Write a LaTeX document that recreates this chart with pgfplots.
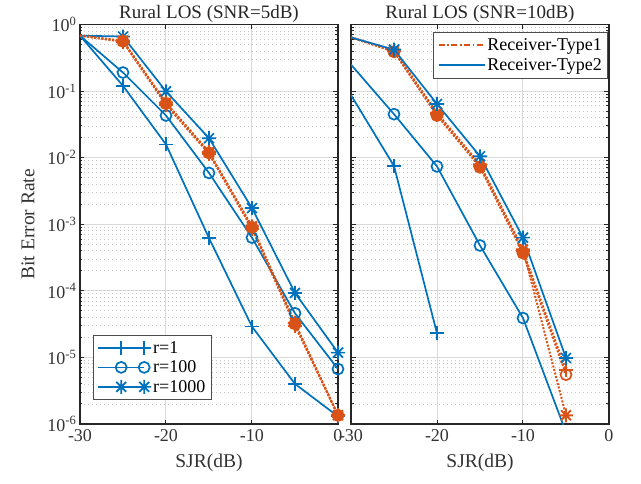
\documentclass[border=0pt]{standalone}
\usepackage{fontspec}
\setmainfont{Liberation Serif}
\usepackage{pgfplots}
\pgfplotsset{compat=1.18}
\definecolor{mblue}{RGB}{0,114,189}
\definecolor{morange}{RGB}{217,83,25}

% MATLAB-like '*' marker (8 arms)
\pgfdeclareplotmark{mstar}{%
  \pgfpathmoveto{\pgfqpoint{-\pgfplotmarksize}{0pt}}\pgfpathlineto{\pgfqpoint{\pgfplotmarksize}{0pt}}%
  \pgfpathmoveto{\pgfqpoint{0pt}{-\pgfplotmarksize}}\pgfpathlineto{\pgfqpoint{0pt}{\pgfplotmarksize}}%
  \pgfpathmoveto{\pgfqpoint{-.707\pgfplotmarksize}{-.707\pgfplotmarksize}}\pgfpathlineto{\pgfqpoint{.707\pgfplotmarksize}{.707\pgfplotmarksize}}%
  \pgfpathmoveto{\pgfqpoint{-.707\pgfplotmarksize}{.707\pgfplotmarksize}}\pgfpathlineto{\pgfqpoint{.707\pgfplotmarksize}{-.707\pgfplotmarksize}}%
  \pgfusepathqstroke}

\pgfplotsset{
  ber/.style={
    scale only axis, width=258pt, height=399.5pt,
    xmin=-30, xmax=0, ymin=1e-6, ymax=1,
    xtick={-30,-20,-10,0}, xticklabels={-30,-20,-10,0},
    ytick={1e-6,1e-5,1e-4,1e-3,1e-2,1e-1,1},
    minor ytick={2e-6,3e-6,4e-6,5e-6,6e-6,7e-6,8e-6,9e-6,
      2e-5,3e-5,4e-5,5e-5,6e-5,7e-5,8e-5,9e-5,
      2e-4,3e-4,4e-4,5e-4,6e-4,7e-4,8e-4,9e-4,
      2e-3,3e-3,4e-3,5e-3,6e-3,7e-3,8e-3,9e-3,
      2e-2,3e-2,4e-2,5e-2,6e-2,7e-2,8e-2,9e-2,
      0.2,0.3,0.4,0.5,0.6,0.7,0.8,0.9},
    xmajorgrids, ymajorgrids, yminorgrids,
    major grid style={gray!30, line width=1pt},
    minor grid style={gray!45, line width=0.8pt, dash pattern=on 0.8pt off 3.2pt},
    axis line style={black!85, line width=1.3pt},
    tick style={black!85, line width=1pt},
    major tick length=4.5pt, minor tick length=2.5pt,
    tick align=inside,
    ticklabel style={font=\fontsize{18}{21}\selectfont, text=black!80},
    xticklabel style={yshift=-2pt},
    label style={font=\fontsize{19.5}{23}\selectfont, text=black!80},
    xlabel style={yshift=-5pt},
    ylabel style={yshift=6pt},
    title style={font=\fontsize{19}{22}\selectfont, text=black!85, yshift=-8pt},
    xlabel={SJR(dB)},
    legend cell align=left,
  },
  bl/.style={mblue, line width=1.7pt, mark options={solid}},
  orr/.style={morange, line width=2pt, dash pattern=on 2pt off 1.6pt, mark options={solid}},
  mp/.style={mark=+, mark size=7pt},
  mo/.style={mark=o, mark size=5.5pt},
  mof/.style={mark=*, mark size=5.5pt, mark options={solid, fill=morange, draw=morange}},
  ms/.style={mark=mstar, mark size=7pt},
  legend image code/.code={%
    \draw[#1] (0pt,0pt) -- (46pt,0pt);
    \draw[#1, mark repeat=2, mark phase=2] plot coordinates {(0pt,0pt) (23pt,0pt) (46pt,0pt)};},
}

\begin{document}
\begin{tikzpicture}
\useasboundingbox (0pt,0pt) rectangle (641pt,483pt);

% ---------------- left panel ----------------
\begin{semilogyaxis}[ber, at={(80pt,59pt)}, anchor=south west,
  title={Rural LOS (SNR=5dB)},
  ylabel={Bit Error Rate},
  yticklabels={10\textsuperscript{-6},10\textsuperscript{-5},10\textsuperscript{-4},10\textsuperscript{-3},10\textsuperscript{-2},10\textsuperscript{-1},10\textsuperscript{0}},
  legend style={at={(0.05,0.06)}, anchor=south west, draw=black!70, line width=0.9pt,
    fill=white, font=\fontsize{18}{21}\selectfont, row sep=2pt, inner sep=4pt},
]
\addplot[bl, mp, mark indices={2,3,4,5,6,7}] coordinates {
  (-30,0.68) (-25,0.12) (-20,0.0158) (-15,6.2e-4) (-10,2.9e-5) (-5,4.0e-6) (0,1.3e-6)};
\addlegendentry{r=1}
\addplot[bl, mo, mark indices={2,3,4,5,6,7}] coordinates {
  (-30,0.68) (-25,0.19) (-20,0.043) (-15,0.0059) (-10,6.3e-4) (-5,4.6e-5) (0,6.7e-6)};
\addlegendentry{r=100}
\addplot[bl, ms, mark indices={2,3,4,5,6,7}] coordinates {
  (-30,0.68) (-25,0.66) (-20,0.099) (-15,0.0196) (-10,1.75e-3) (-5,9.3e-5) (0,1.18e-5)};
\addlegendentry{r=1000}
\addplot[orr, mp, mark indices={2,3,4,5,6,7}, forget plot] coordinates {
  (-30,0.68) (-25,0.55) (-20,0.062) (-15,0.0115) (-10,8.6e-4) (-5,3.0e-5) (0,1.35e-6)};
\addplot[orr, mof, mark indices={2,3,4,5,6,7}, forget plot] coordinates {
  (-30,0.68) (-25,0.56) (-20,0.065) (-15,0.0118) (-10,9.0e-4) (-5,3.2e-5) (0,1.35e-6)};
\addplot[orr, ms, mark indices={2,3,4,5,6,7}, forget plot] coordinates {
  (-30,0.68) (-25,0.57) (-20,0.067) (-15,0.0122) (-10,9.3e-4) (-5,3.3e-5) (0,1.35e-6)};
\end{semilogyaxis}

% ---------------- right panel ----------------
\begin{semilogyaxis}[ber, at={(351pt,59pt)}, anchor=south west,
  title={Rural LOS (SNR=10dB)},
  yticklabels={},
  legend style={at={(0.997,0.982)}, anchor=north east, draw=black!70, line width=0.9pt,
    fill=white, font=\fontsize{18}{21}\selectfont, row sep=3pt, inner sep=4pt},
]
\addlegendimage{morange, line width=1.7pt, dash pattern=on 6pt off 2.5pt on 1.7pt off 2.5pt}
\addlegendentry{Receiver-Type1}
\addlegendimage{mblue, line width=1.7pt}
\addlegendentry{Receiver-Type2}
\addplot[orr, mp, mark indices={2,3,4,5,6}, forget plot] coordinates {
  (-30,0.64) (-25,0.40) (-20,0.045) (-15,0.0076) (-10,4.0e-4) (-5,6.4e-6)};
\addplot[orr, mof, mark indices={2,3,4,5}, forget plot] coordinates {
  (-30,0.64) (-25,0.39) (-20,0.043) (-15,0.0072) (-10,3.7e-4) (-5,5.5e-6)};
\addplot[morange, only marks, mo, line width=1.7pt, forget plot] coordinates {(-5,5.5e-6)};
\addplot[orr, ms, mark indices={2,3,4,5,6}, forget plot] coordinates {
  (-30,0.64) (-25,0.41) (-20,0.047) (-15,0.0079) (-10,4.2e-4) (-5,1.35e-6)};
\addplot[bl, mp, mark indices={2,3}, forget plot] coordinates {
  (-30,0.087) (-25,0.0075) (-20,2.3e-5)};
\addplot[bl, mo, mark indices={2,3,4,5}, forget plot] coordinates {
  (-30,0.25) (-25,0.045) (-20,0.0074) (-15,4.8e-4) (-10,3.9e-5) (-5,7.5e-7)};
\addplot[bl, ms, mark indices={2,3,4,5,6}, forget plot] coordinates {
  (-30,0.64) (-25,0.42) (-20,0.064) (-15,0.0105) (-10,6.3e-4) (-5,9.8e-6)};
\end{semilogyaxis}
\end{tikzpicture}
\end{document}
